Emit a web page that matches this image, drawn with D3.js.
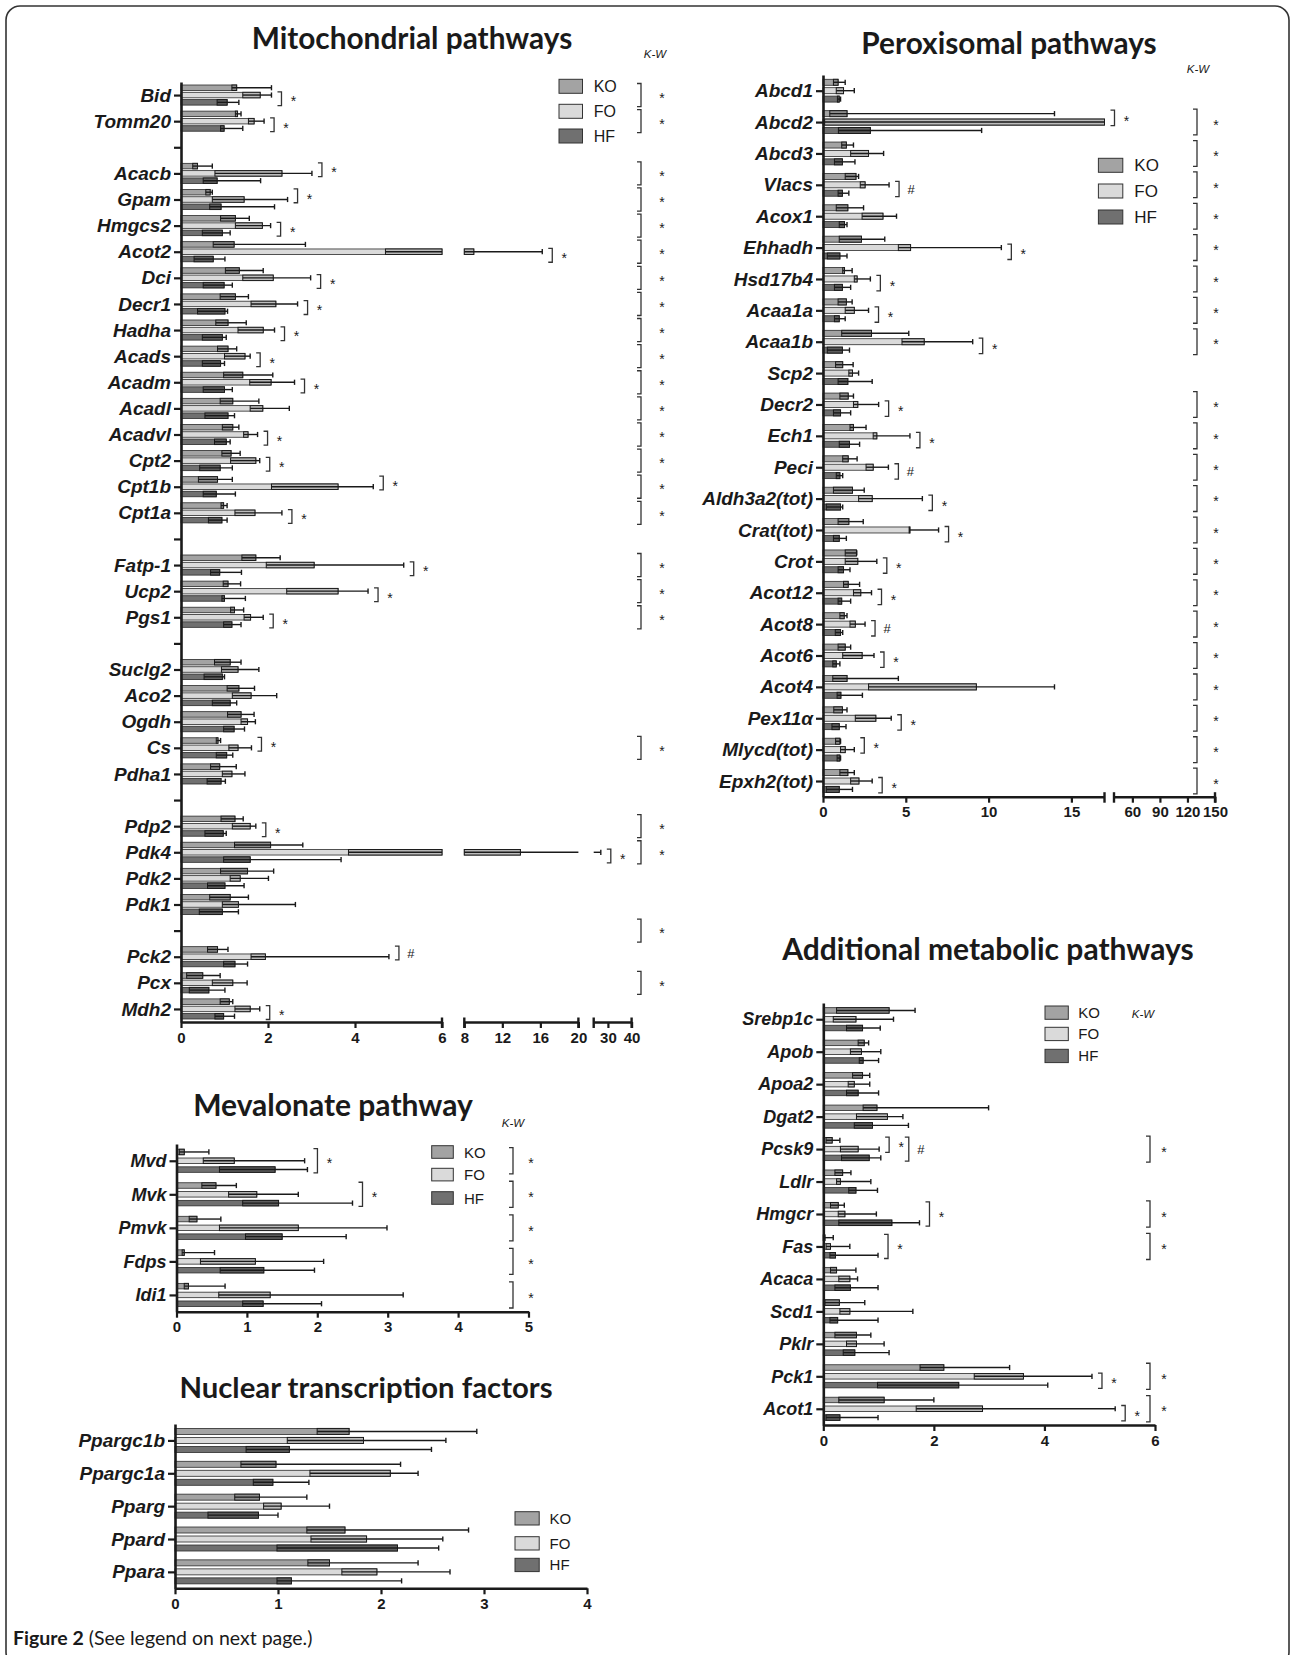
<!DOCTYPE html>
<html>
<head>
<meta charset="utf-8">
<script src="https://cdn.jsdelivr.net/npm/d3@7"></script>
<style>
  body { margin: 0; background: #fff; }
  svg text { fill: #1a1a1a; }
</style>
</head>
<body>
<svg id="fig" width="1295" height="1655"></svg>
<script>
// Relative mRNA expression, median with interquartile range: each entry is [low, median, high]
const groups = ["KO", "FO", "HF"];

// ---------- Mitochondrial pathways ----------
// rows starting with "_" are empty spacer rows between gene groups
const mitoRows = ["Bid","Tomm20","_1","Acacb","Gpam","Hmgcs2","Acot2","Dci","Decr1","Hadha","Acads","Acadm","Acadl","Acadvl","Cpt2","Cpt1b","Cpt1a","_2","Fatp-1","Ucp2","Pgs1","_3","Suclg2","Aco2","Ogdh","Cs","Pdha1","_4","Pdp2","Pdk4","Pdk2","Pdk1","_5","Pck2","Pcx","Mdh2"];
const mitoGenes = ["Bid","Tomm20","Acacb","Gpam","Hmgcs2","Acot2","Dci","Decr1","Hadha","Acads","Acadm","Acadl","Acadvl","Cpt2","Cpt1b","Cpt1a","Fatp-1","Ucp2","Pgs1","Suclg2","Aco2","Ogdh","Cs","Pdha1","Pdp2","Pdk4","Pdk2","Pdk1","Pck2","Pcx","Mdh2"];
const mitoKO = [[1.17,1.28,2.08],[1.25,1.30,1.38],[0.27,0.38,0.72],[0.57,0.67,0.72],[0.91,1.25,1.57],[0.74,1.22,2.86],[1.02,1.34,1.89],[0.90,1.25,1.55],[0.80,1.08,1.50],[0.84,1.08,1.28],[0.98,1.42,2.11],[0.90,1.19,1.79],[0.95,1.19,1.33],[0.94,1.15,1.36],[0.40,0.84,1.18],[0.92,0.98,1.06],[1.40,1.72,2.28],[0.97,1.08,1.37],[1.14,1.23,1.44],[0.77,1.13,1.38],[1.06,1.33,1.69],[1.07,1.38,1.68],[0.81,0.85,0.91],[0.68,0.89,1.27],[0.92,1.24,1.43],[1.23,2.06,2.80],[0.91,1.53,2.13],[0.66,1.13,1.55],[0.61,0.84,1.08],[0.13,0.50,0.90],[0.90,1.11,1.19]];
const mitoFO = [[1.42,1.82,2.08],[1.55,1.68,1.91],[0.78,2.32,3.01],[0.72,1.45,2.45],[1.25,1.87,2.06],[4.70,9.00,16.2],[1.42,2.12,2.98],[1.61,2.18,2.68],[1.31,1.89,2.15],[1.00,1.47,1.59],[1.58,2.07,2.61],[1.59,1.88,2.49],[1.44,1.54,1.76],[1.14,1.72,1.81],[2.08,3.61,4.42],[1.24,1.70,2.32],[1.96,3.06,5.12],[2.43,3.61,4.30],[1.45,1.60,1.89],[0.93,1.31,1.79],[1.18,1.61,2.20],[1.38,1.53,1.71],[1.10,1.31,1.62],[0.95,1.17,1.47],[1.18,1.59,1.72],[3.85,13.9,27.0],[1.13,1.36,2.01],[0.95,1.32,2.63],[1.61,1.94,4.78],[0.72,1.19,1.52],[1.24,1.59,1.81]];
const mitoHF = [[0.83,1.06,1.33],[0.91,0.99,1.42],[0.51,0.83,1.83],[0.66,0.92,2.15],[0.49,0.95,1.13],[0.30,0.74,1.01],[0.51,0.99,1.18],[0.38,1.01,1.07],[0.49,0.95,1.04],[0.49,0.91,1.00],[0.51,1.00,1.18],[0.55,1.08,1.23],[0.77,1.04,1.13],[0.43,0.90,1.18],[0.51,0.81,1.25],[0.63,0.94,1.06],[0.68,0.89,1.39],[0.94,1.00,1.48],[0.98,1.17,1.38],[0.53,0.95,1.00],[0.72,1.13,1.28],[0.98,1.22,1.46],[0.81,1.05,1.19],[0.60,0.92,1.02],[0.55,0.97,1.04],[0.98,1.59,3.68],[0.61,1.01,1.45],[0.42,0.95,1.32],[0.98,1.24,1.53],[0.19,0.64,1.01],[0.78,0.98,1.23]];
// pairwise comparisons: [gene, first group, second group, mark]
const mitoPairs = [["Bid","FO","HF","*"],["Tomm20","FO","HF","*"],["Acacb","KO","FO","*"],["Gpam","KO","FO","*"],["Hmgcs2","FO","HF","*"],["Acot2","FO","HF","*"],["Dci","FO","HF","*"],["Decr1","FO","HF","*"],["Hadha","FO","HF","*"],["Acads","FO","HF","*"],["Acadm","FO","HF","*"],["Acadvl","FO","HF","*"],["Cpt2","FO","HF","*"],["Cpt1b","KO","FO","*"],["Cpt1a","FO","HF","*"],["Fatp-1","FO","HF","*"],["Ucp2","FO","HF","*"],["Pgs1","FO","HF","*"],["Cs","KO","FO","*"],["Pdp2","FO","HF","*"],["Pdk4","FO","HF","*"],["Pck2","KO","FO","#"],["Mdh2","FO","HF","*"]];
// Kruskal-Wallis significant rows
const mitoKW = ["Bid","Tomm20","Acacb","Gpam","Hmgcs2","Acot2","Dci","Decr1","Hadha","Acads","Acadm","Acadl","Acadvl","Cpt2","Cpt1b","Cpt1a","Fatp-1","Ucp2","Pgs1","Cs","Pdp2","Pdk4","_5","Pcx"];
const mitoTicks = [[0,2,4,6],[8,12,16,20],[30,40]];

// ---------- Peroxisomal pathways ----------
const peroxGenes = ["Abcd1","Abcd2","Abcd3","Vlacs","Acox1","Ehhadh","Hsd17b4","Acaa1a","Acaa1b","Scp2","Decr2","Ech1","Peci","Aldh3a2(tot)","Crat(tot)","Crot","Acot12","Acot8","Acot6","Acot4","Pex11α","Mlycd(tot)","Epxh2(tot)"];
const peroxKO = [[0.63,0.91,1.34],[0.41,1.45,13.98],[1.13,1.41,1.84],[1.34,1.99,2.15],[0.80,1.50,2.45],[0.98,2.32,3.73],[1.19,1.30,1.76],[0.91,1.41,1.76],[1.13,2.93,5.18],[0.76,1.19,1.82],[1.02,1.52,1.84],[1.63,1.84,2.60],[1.19,1.52,2.06],[0.63,1.78,2.49],[0.91,1.56,2.43],[1.34,2.02,2.04],[1.24,1.52,2.21],[1.02,1.28,1.45],[0.91,1.34,1.67],[0.59,1.45,4.55],[0.65,1.17,1.45],[0.76,1.02,1.06],[1.02,1.50,1.89]];
const peroxFO = [[0.80,1.24,1.89],[0.10,17.0,17.0],[1.67,2.75,3.66],[2.25,2.54,3.99],[2.36,3.62,4.44],[4.55,5.29,10.77],[1.89,2.06,2.86],[1.34,1.89,2.75],[4.77,6.11,9.04],[1.56,1.78,2.15],[1.84,2.10,3.36],[3.03,3.25,5.25],[2.60,3.03,3.95],[2.15,2.97,6.00],[5.20,5.25,6.98],[1.34,2.10,3.25],[1.84,2.28,2.93],[1.63,1.95,2.54],[1.19,2.36,3.08],[2.75,9.26,13.98],[1.95,3.19,4.12],[1.06,1.34,1.89],[1.67,2.17,2.97]];
const peroxHF = [[0.87,0.98,1.06],[0.93,2.86,9.58],[0.69,1.17,1.93],[0.91,1.17,1.56],[0.98,1.30,1.45],[0.26,1.02,1.45],[0.69,1.17,1.67],[0.69,0.98,1.34],[0.26,1.17,1.60],[0.91,1.50,2.97],[0.63,1.06,1.67],[0.98,1.60,2.21],[0.80,1.02,1.19],[0.20,1.06,1.19],[0.63,0.98,1.41],[0.91,1.24,1.63],[0.91,1.13,1.67],[0.74,1.06,1.19],[0.59,0.80,1.02],[0.85,1.08,2.38],[0.54,0.98,1.39],[0.85,1.02,1.06],[0.20,0.98,1.78]];
const peroxPairs = [["Abcd2","KO","FO","*"],["Vlacs","FO","HF","#"],["Ehhadh","FO","HF","*"],["Hsd17b4","FO","HF","*"],["Acaa1a","FO","HF","*"],["Acaa1b","FO","HF","*"],["Decr2","FO","HF","*"],["Ech1","FO","HF","*"],["Peci","FO","HF","#"],["Aldh3a2(tot)","FO","HF","*"],["Crat(tot)","FO","HF","*"],["Crot","FO","HF","*"],["Acot12","FO","HF","*"],["Acot8","FO","HF","#"],["Acot6","FO","HF","*"],["Pex11α","FO","HF","*"],["Mlycd(tot)","KO","FO","*"],["Epxh2(tot)","FO","HF","*"]];
const peroxKW = peroxGenes.filter(g => g !== "Abcd1" && g !== "Scp2");
const peroxTicks = [[0,5,10,15],[60,90,120,150]];

// ---------- Mevalonate pathway ----------
const mevGenes = ["Mvd","Mvk","Pmvk","Fdps","Idi1"];
const mevKO = [[0.04,0.11,0.46],[0.36,0.56,0.85],[0.18,0.29,0.63],[0.08,0.11,0.54],[0.11,0.17,0.69]];
const mevFO = [[0.38,0.82,1.82],[0.74,1.14,1.73],[0.61,1.73,2.99],[0.34,1.12,2.09],[0.60,1.33,3.22]];
const mevHF = [[0.61,1.40,1.86],[0.94,1.45,2.50],[0.98,1.50,2.41],[0.62,1.24,1.96],[0.94,1.23,2.06]];
const mevPairs = [["Mvd","KO","HF","*"],["Mvk","KO","HF","*"]];
const mevKW = mevGenes.slice();
const mevTicks = [[0,1,2,3,4,5]];

// ---------- Nuclear transcription factors ----------
const nucGenes = ["Ppargc1b","Ppargc1a","Pparg","Ppard","Ppara"];
const nucKO = [[1.38,1.69,2.93],[0.64,0.98,2.19],[0.58,0.82,1.28],[1.28,1.65,2.85],[1.29,1.50,2.36]];
const nucFO = [[1.09,1.83,2.63],[1.31,2.09,2.36],[0.86,1.03,1.50],[1.32,1.86,2.60],[1.62,1.96,2.67]];
const nucHF = [[0.69,1.11,2.49],[0.76,0.95,1.30],[0.32,0.81,1.00],[0.99,2.16,2.56],[0.99,1.13,2.20]];
const nucTicks = [[0,1,2,3,4]];

// ---------- Additional metabolic pathways ----------
const addGenes = ["Srebp1c","Apob","Apoa2","Dgat2","Pcsk9","Ldlr","Hmgcr","Fas","Acaca","Scd1","Pklr","Pck1","Acot1"];
const addKO = [[0.24,1.19,1.66],[0.63,0.74,0.82],[0.53,0.71,0.84],[0.72,0.97,2.99],[0.05,0.16,0.30],[0.21,0.35,0.50],[0.13,0.27,0.38],[0.00,0.03,0.18],[0.13,0.24,0.59],[0.03,0.29,0.75],[0.21,0.60,0.86],[1.75,2.18,3.37],[0.28,1.10,2.00]];
const addFO = [[0.18,0.59,1.27],[0.49,0.69,1.04],[0.45,0.56,0.84],[0.60,1.16,1.44],[0.31,0.63,1.01],[0.24,0.31,0.86],[0.27,0.39,0.96],[0.05,0.13,0.48],[0.28,0.48,0.62],[0.30,0.48,1.62],[0.42,0.60,1.10],[2.73,3.62,4.86],[1.68,2.88,5.28]];
const addHF = [[0.42,0.71,1.03],[0.65,0.72,1.00],[0.42,0.63,1.00],[0.56,0.89,1.54],[0.33,0.83,1.04],[0.46,0.59,0.98],[0.28,1.24,1.74],[0.12,0.22,0.99],[0.21,0.49,0.99],[0.12,0.26,0.99],[0.36,0.57,1.19],[0.98,2.45,4.06],[0.05,0.30,0.99]];
const addPairs = [["Pcsk9","KO","FO","*"],["Pcsk9","KO","HF","#"],["Hmgcr","KO","HF","*"],["Fas","KO","HF","*"],["Pck1","FO","HF","*"],["Acot1","FO","HF","*"]];
const addKW = ["Pcsk9","Hmgcr","Fas","Pck1","Acot1"];
const addTicks = [[0,2,4,6]];

// ---------- drawing ----------
const svg = d3.select("#fig");
const INK = "#1a1a1a";
const fillOf = { KO: "#a3a3a3", FO: "#dadada", HF: "#707070" };
const boxOf  = { KO: "#8c8c8c", FO: "#bcbcbc", HF: "#5c5c5c" };
const labelFont = "'Liberation Sans', Arial, sans-serif";
const titleFont = "Lato, 'Open Sans', sans-serif";

// frame around the whole figure
svg.append("rect").attr("x", 6).attr("y", 6).attr("width", 1283).attr("height", 1660)
  .attr("rx", 14).attr("fill", "none").attr("stroke", "#333").attr("stroke-width", 1.6);

// interval [a,b] split into pixel pieces over the segments of a broken axis
function pieces(xs, a, b) {
  const out = [];
  xs.forEach(s => {
    const [d0, d1] = s.domain();
    const lo = Math.max(a, d0), hi = Math.min(b, d1);
    if (hi > lo) out.push([s(lo), s(hi)]);
  });
  return out;
}
function xPos(xs, v) {
  let x = xs[0](xs[0].domain()[0]);
  xs.forEach(s => { const [d0, d1] = s.domain(); if (v >= d0) x = s(Math.min(v, d1)); });
  return x;
}

function panel(cfg) {
  const g = svg.append("g");
  const rows = cfg.rows || cfg.genes;
  const y = d3.scalePoint().domain(rows).range(cfg.yRange).padding(0.5);
  const xs = cfg.segs.map(s => d3.scaleLinear().domain(s.domain).range(s.range));
  const x0 = xs[0].range()[0];
  const axisY = cfg.yRange[1];
  const off = { KO: -cfg.off, FO: 0, HF: cfg.off };
  const h = cfg.barH;
  const values = { KO: cfg.KO, FO: cfg.FO, HF: cfg.HF };

  // title
  g.append("text").attr("x", cfg.title[1]).attr("y", cfg.title[2])
    .attr("text-anchor", "middle").attr("dominant-baseline", "central")
    .style("font-family", titleFont).style("font-weight", 700).style("font-size", cfg.title[3] + "px")
    .text(cfg.title[0]);

  // bars with median and interquartile range
  cfg.genes.forEach((gene, i) => {
    groups.forEach(grp => {
      const [lo, med, hi] = values[grp][i];
      const cy = y(gene) + off[grp];
      pieces(xs, 0, med).forEach(([a, b]) => {
        g.append("rect").attr("x", a).attr("y", cy - h / 2).attr("width", b - a).attr("height", h)
          .attr("fill", fillOf[grp]).attr("stroke", "#2a2a2a").attr("stroke-width", 0.8);
      });
      pieces(xs, lo, med).forEach(([a, b]) => {
        g.append("rect").attr("x", a).attr("y", cy - h / 2).attr("width", b - a).attr("height", h)
          .attr("fill", boxOf[grp]).attr("stroke", "#1a1a1a").attr("stroke-width", 1);
      });
      pieces(xs, lo, hi).forEach(([a, b]) => {
        g.append("line").attr("x1", a).attr("x2", b).attr("y1", cy).attr("y2", cy)
          .attr("stroke", INK).attr("stroke-width", 1.4);
      });
      if (hi > med) {
        const xh = xPos(xs, hi);
        g.append("line").attr("x1", xh).attr("x2", xh).attr("y1", cy - 2.6).attr("y2", cy + 2.6)
          .attr("stroke", INK).attr("stroke-width", 1.4);
      }
    });
  });

  // y axis with gene names
  const yAx = g.append("g").attr("transform", `translate(${x0},0)`)
    .call(d3.axisLeft(y).tickSize(7).tickPadding(3).tickSizeOuter(0)
      .tickFormat(d => d.startsWith("_") ? "" : d));
  yAx.select(".domain").attr("stroke", INK).attr("stroke-width", 2.6);
  yAx.selectAll(".tick line").attr("stroke", INK).attr("stroke-width", 2.2);
  yAx.selectAll(".tick text").style("font-family", labelFont).style("font-weight", 700)
    .style("font-style", "italic").style("font-size", cfg.labelSize + "px").attr("fill", INK);

  // x axis, one piece per segment of a broken axis
  xs.forEach((s, k) => {
    const ax = g.append("g").attr("transform", `translate(0,${axisY})`)
      .call(d3.axisBottom(s).tickValues(cfg.segs[k].ticks).tickSize(6).tickPadding(4).tickSizeOuter(0)
        .tickFormat(d3.format("d")));
    ax.select(".domain").attr("stroke", INK).attr("stroke-width", 2.6);
    ax.selectAll(".tick line").attr("stroke", INK).attr("stroke-width", 2.2);
    ax.selectAll(".tick text").style("font-family", labelFont).style("font-weight", 700)
      .style("font-size", "15px").attr("fill", INK);
    if (xs.length > 1) {
      const [r0, r1] = s.range();
      const caps = k === 0 ? [r1] : [r0, r1];
      caps.forEach(c => ax.append("line").attr("x1", c).attr("x2", c).attr("y1", -4.5).attr("y2", 6)
        .attr("stroke", INK).attr("stroke-width", 2.4));
    }
  });

  // bracket helper
  function bracket(xb, y0, y1, mark, sx) {
    g.append("path").attr("d", `M${xb - 4},${y0}H${xb}V${y1}H${xb - 4}`)
      .attr("fill", "none").attr("stroke", "#333").attr("stroke-width", 1.3);
    const fs = mark === "*" ? 14 : 13;
    g.append("text").attr("x", xb + sx).attr("y", (y0 + y1) / 2 + (mark === "*" ? 0.55 : 0.36) * fs)
      .attr("text-anchor", "middle").style("font-family", labelFont)
      .style("font-size", fs + "px").text(mark);
  }

  // pairwise comparisons
  const seen = {};
  (cfg.pairs || []).forEach(([gene, a, b, mark]) => {
    const i = cfg.genes.indexOf(gene);
    const far = Math.max(values[a][i][2], values[a][i][1], values[b][i][2], values[b][i][1]);
    const n = seen[gene] = (seen[gene] || 0) + 1;
    const xb = xPos(xs, far) + 10 + (n - 1) * 18;
    const y0 = y(gene) + off[a] - h / 2 - 0.5, y1 = y(gene) + off[b] + h / 2 + 0.5;
    bracket(xb, y0, y1, mark, 12);
  });

  // Kruskal-Wallis column
  (cfg.kw || []).forEach(row => {
    const c = y(row);
    bracket(cfg.kwX, c - cfg.off - h / 2 - 1.5, c + cfg.off + h / 2 + 1.5, "*", cfg.kwStar);
  });
  if (cfg.kwLabel) {
    g.append("text").attr("x", cfg.kwLabel[0]).attr("y", cfg.kwLabel[1]).attr("text-anchor", "middle")
      .attr("dominant-baseline", "central").style("font-family", labelFont).style("font-style", "italic")
      .style("font-size", "11.5px").text("K-W");
  }

  // legend
  const L = cfg.legend;
  groups.forEach((grp, k) => {
    g.append("rect").attr("x", L.x).attr("y", L.ys[k]).attr("width", L.w).attr("height", L.h)
      .attr("fill", fillOf[grp]).attr("stroke", "#333").attr("stroke-width", 1);
    g.append("text").attr("x", L.tx).attr("y", L.ys[k] + L.h / 2).attr("dominant-baseline", "central")
      .style("font-family", labelFont).style("font-size", L.fs + "px").text(grp);
  });
}

panel({
  title: ["Mitochondrial pathways", 412, 37, 29.8],
  rows: mitoRows, genes: mitoGenes, KO: mitoKO, FO: mitoFO, HF: mitoHF,
  yRange: [82, 1022], off: 7.3, barH: 5.5, labelSize: 19,
  segs: [{ domain: [0, 6], range: [181, 442], ticks: mitoTicks[0] },
         { domain: [8, 20], range: [464.3, 578.4], ticks: mitoTicks[1] },
         { domain: [24, 40], range: [593.7, 631.6], ticks: mitoTicks[2] }],
  pairs: mitoPairs, kw: mitoKW, kwX: 641, kwStar: 21, kwLabel: [655, 54],
  legend: { x: 559, w: 23.5, h: 14, ys: [79.3, 104.3, 129], tx: 593.7, fs: 16 }
});

panel({
  title: ["Peroxisomal pathways", 1009, 42, 29.8],
  genes: peroxGenes, KO: peroxKO, FO: peroxFO, HF: peroxHF,
  yRange: [75, 796.7], off: 8.4, barH: 6, labelSize: 19,
  segs: [{ domain: [0, 17], range: [823, 1104.5], ticks: peroxTicks[0] },
         { domain: [40, 150], range: [1114, 1215], ticks: peroxTicks[1] }],
  pairs: peroxPairs, kw: peroxKW, kwX: 1197, kwStar: 19, kwLabel: [1198, 69],
  legend: { x: 1098.4, w: 24.4, h: 14, ys: [158.3, 184, 210], tx: 1134.3, fs: 17 }
});

panel({
  title: ["Mevalonate pathway", 333, 1104, 30],
  genes: mevGenes, KO: mevKO, FO: mevFO, HF: mevHF,
  yRange: [1144, 1311.7], off: 8.8, barH: 5.5, labelSize: 18,
  segs: [{ domain: [0, 5], range: [176.5, 528.5], ticks: mevTicks[0] }],
  pairs: mevPairs, kw: mevKW, kwX: 513, kwStar: 18, kwLabel: [513, 1123],
  legend: { x: 431.7, w: 21.6, h: 12.6, ys: [1145.7, 1168.3, 1191.7], tx: 464, fs: 15 }
});

panel({
  title: ["Nuclear transcription factors", 366, 1386, 29.3],
  genes: nucGenes, KO: nucKO, FO: nucFO, HF: nucHF,
  yRange: [1424, 1588.3], off: 9, barH: 6, labelSize: 19,
  segs: [{ domain: [0, 4], range: [175, 587], ticks: nucTicks[0] }],
  legend: { x: 515, w: 24.2, h: 13.3, ys: [1511.7, 1536.7, 1558.3], tx: 549.6, fs: 15 }
});

panel({
  title: ["Additional metabolic pathways", 988, 948, 30],
  genes: addGenes, KO: addKO, FO: addFO, HF: addHF,
  yRange: [1003, 1425], off: 8.8, barH: 5.5, labelSize: 18,
  segs: [{ domain: [0, 6], range: [823.3, 1155], ticks: addTicks[0] }],
  pairs: addPairs, kw: addKW, kwX: 1150, kwStar: 14, kwLabel: [1143, 1014],
  legend: { x: 1045, w: 23.3, h: 13.3, ys: [1006, 1027.3, 1049.3], tx: 1078.3, fs: 15 }
});

// caption
const cap = svg.append("text").attr("x", 13).attr("y", 1645)
  .style("font-family", titleFont).style("font-size", "19.5px");
cap.append("tspan").style("font-weight", 700).text("Figure 2");
cap.append("tspan").text(" (See legend on next page.)");
</script>
</body>
</html>
